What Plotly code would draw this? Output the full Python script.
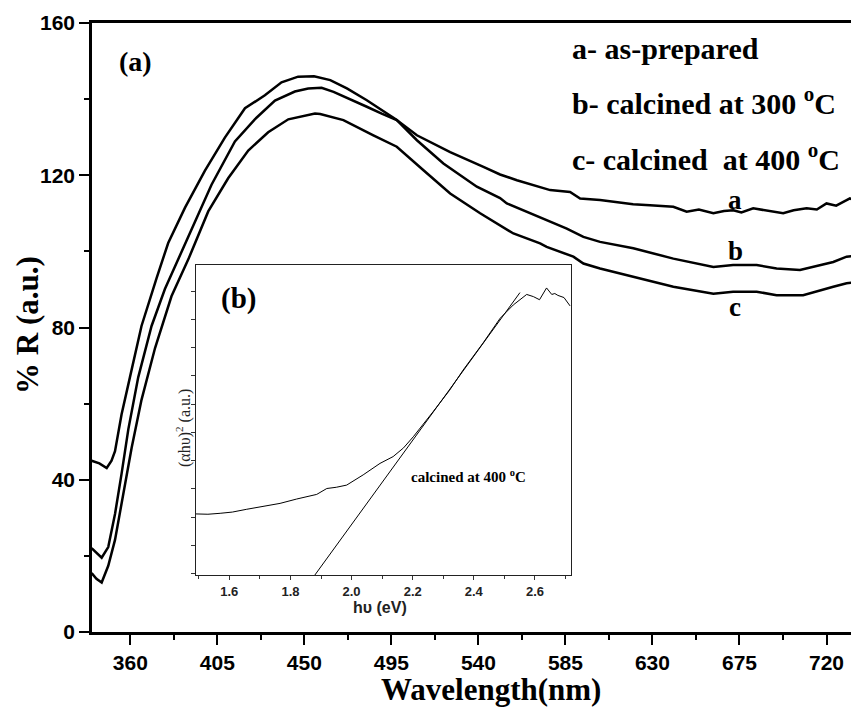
import plotly.graph_objects as go

# ---- main spectra (wavelength nm, %R) ----
wl_a = [340, 342.5, 345.2, 348.6, 352.1, 355.5, 359.0, 364.1, 371.0, 377.9, 386.5, 395.1, 402.0,
        414.1, 424.4, 434.8, 445.1, 452.0, 458.9, 465.1, 473.0, 482.3, 490.0, 497.8, 508.2, 525.4,
        542.6, 551.2, 559.9, 571.9, 577.1, 587.4, 592.6, 602.9, 611.5, 620.0, 628.7, 640.8, 647.7,
        654.0, 661.5, 667.0, 671.8, 676.0, 682.1, 690.0, 697.6, 703.0, 709.7, 715.0, 720.0, 725.0,
        732.1, 736.6]
r_a = [22.0, 20.8, 19.5, 22.3, 31.0, 41.6, 53.3, 66.9, 80.4, 90.1, 99.8, 109.5, 117.5,
       128.9, 134.7, 139.6, 142.0, 142.8, 143.0, 141.9, 140.2, 138.0, 136.2, 134.5, 130.5, 126.1,
       122.2, 120.2, 118.7, 117.0, 116.1, 115.6, 113.9, 113.5, 113.0, 112.4, 112.1, 111.7, 110.4,
       111.0, 110.0, 110.6, 110.8, 110.2, 111.3, 110.6, 110.0, 110.8, 111.3, 111.0, 112.6, 112.0,
       113.9, 113.0]

wl_b = [340, 344.0, 347.8, 350.3, 352.1, 355.5, 359.8, 365.8, 373.6, 379.6, 388.3, 398.6, 408.9,
        419.3, 429.6, 438.2, 446.8, 455.0, 463.4, 472.0, 482.3, 490.0, 497.8, 508.2, 521.9, 539.2,
        551.2, 554.7, 571.9, 585.7, 594.3, 602.9, 620.1, 640.8, 661.5, 671.7, 683.9, 694.2, 706.3,
        716.6, 723.5, 730.4, 736.6]
r_b = [45.0, 44.3, 43.1, 45.0, 47.5, 57.2, 66.9, 80.4, 93.0, 102.2, 111.5, 121.2, 129.9,
       137.6, 141.0, 144.4, 145.9, 146.0, 145.0, 142.8, 139.7, 137.0, 134.5, 129.2, 123.1, 117.0,
       114.0, 112.6, 109.0, 106.0, 103.8, 102.5, 100.8, 98.1, 95.9, 96.4, 96.4, 95.5, 95.1,
       96.4, 97.2, 98.6, 99.0]

wl_c = [340, 342.5, 345.2, 348.6, 352.1, 355.5, 360.7, 365.8, 372.8, 381.3, 390.0, 400.3, 410.6,
        421.0, 431.3, 441.7, 447.9, 455.5, 458.2, 470.2, 485.7, 497.8, 511.6, 525.4, 540.9, 551.2,
        558.1, 571.9, 575.3, 589.1, 594.3, 602.9, 620.1, 640.8, 661.5, 671.7, 683.9, 694.2, 707.9,
        716.6, 723.5, 730.4, 736.6]
r_c = [15.5, 14.0, 13.0, 17.4, 24.2, 33.9, 48.4, 61.0, 74.6, 88.2, 97.9, 110.5, 119.2,
       126.5, 131.3, 134.7, 135.3, 136.2, 136.1, 134.5, 130.5, 127.5, 121.3, 115.2, 110.0, 106.9,
       104.7, 102.1, 101.2, 98.6, 96.8, 95.5, 93.3, 90.7, 88.9, 89.4, 89.4, 88.5, 88.5,
       89.8, 90.7, 91.6, 92.0]

x_ticks = [360, 405, 450, 495, 540, 585, 630, 675, 720]
y_ticks = [0, 40, 80, 120, 160]

# ---- inset: Tauc plot ----
ev = [1.491, 1.53, 1.570, 1.61, 1.657, 1.70, 1.766, 1.82, 1.886, 1.919, 1.95, 1.984, 2.038, 2.093,
      2.136, 2.17, 2.202, 2.267, 2.32, 2.365, 2.43, 2.486, 2.529, 2.573, 2.595, 2.615, 2.638,
      2.655, 2.665, 2.675, 2.695, 2.715]
ahv2 = [19.7, 19.6, 19.9, 20.3, 21.2, 22.0, 23.1, 24.5, 26.0, 27.9, 28.3, 29.0, 32.3, 36.0,
        38.2, 41.0, 44.6, 52.7, 59.5, 66.1, 74.8, 82.8, 87.1, 90.5, 89.8, 88.8, 92.6,
        90.5, 90.8, 90.2, 89.5, 86.8]
tan_ev = [1.880, 2.551]
tan_y = [0.0, 91.1]
inset_ticks = [1.6, 1.8, 2.0, 2.2, 2.4, 2.6]

SERIF = "Liberation Serif"
SANS = "Liberation Sans"

fig = go.Figure()
for wl, r in [(wl_a, r_a), (wl_b, r_b), (wl_c, r_c)]:
    fig.add_trace(go.Scatter(x=wl, y=r, mode="lines", line=dict(color="black", width=2.5),
                             showlegend=False, xaxis="x", yaxis="y"))

fig.add_trace(go.Scatter(x=ev, y=ahv2, mode="lines", line=dict(color="black", width=1),
                         showlegend=False, xaxis="x2", yaxis="y2"))
fig.add_trace(go.Scatter(x=tan_ev, y=tan_y, mode="lines", line=dict(color="black", width=1),
                         showlegend=False, xaxis="x2", yaxis="y2"))

# page body has an 8px margin: the figure sits at (8, 8) in the window
OFF = 8
W, H = 859 - OFF, 711 - OFF
L, R, T, B = 92 - OFF, 0, 23 - OFF, 79
pw, ph = W - L - R, H - T - B


def px(x):
    """window pixel x -> paper fraction"""
    return (x - OFF - L) / pw


def py(y):
    """window pixel y -> paper fraction"""
    return (H - B - (y - OFF)) / ph


fig.update_layout(
    template="none",
    width=W, height=H,
    margin=dict(l=L, r=R, t=T, b=B, pad=0, autoexpand=False),
    paper_bgcolor="white", plot_bgcolor="white",
    showlegend=False,
    xaxis=dict(domain=[0, 1], range=[340.2, 736.8], tickvals=x_ticks, automargin=False,
               ticks="outside", ticklen=10, tickwidth=2, tickcolor="black",
               minor=dict(tick0=360, dtick=22.5, ticks="outside", ticklen=5, tickwidth=2,
                          tickcolor="black"),
               showline=True, linecolor="black", linewidth=2.5, mirror=True,
               showgrid=False, zeroline=False,
               tickfont=dict(family=SANS, size=21, color="black", weight="bold")),
    yaxis=dict(domain=[0, 1], range=[0, 160], tickvals=y_ticks, automargin=False,
               ticks="outside", ticklen=10, tickwidth=2, tickcolor="black",
               minor=dict(tick0=0, dtick=20, ticks="outside", ticklen=5, tickwidth=2,
                          tickcolor="black"),
               showline=True, linecolor="black", linewidth=2.5, mirror=False,
               showgrid=False, zeroline=False,
               tickfont=dict(family=SANS, size=21, color="black", weight="bold")),
    xaxis2=dict(domain=[px(196), px(571)], anchor="y2", range=[1.491, 2.718],
                tickvals=inset_ticks, ticktext=[f"{v:.1f}" for v in inset_ticks],
                automargin=False,
                ticks="outside", ticklen=4, tickwidth=1, tickcolor="#333",
                minor=dict(tick0=1.5, dtick=0.1, ticks="outside", ticklen=3, tickwidth=1,
                           tickcolor="#333"),
                showline=True, linecolor="#222", linewidth=1, mirror=True,
                showgrid=False, zeroline=False,
                tickfont=dict(family=SANS, size=13, color="#222", weight="bold")),
    yaxis2=dict(domain=[py(575), py(265)], anchor="x2", range=[0, 100], automargin=False,
                tick0=0.5, dtick=9.1, ticks="outside", ticklen=4, tickwidth=1,
                tickcolor="#333", showticklabels=False,
                showline=True, linecolor="#222", linewidth=1, mirror=True,
                showgrid=False, zeroline=False),
)

ann = []


def text(x, y, s, size, family=SERIF, weight="bold", angle=0, color="black",
         xanchor="center"):
    ann.append(dict(x=px(x), y=py(y), xref="paper", yref="paper", text=s, showarrow=False,
                    font=dict(family=family, size=size, color=color, weight=weight),
                    textangle=angle, xanchor=xanchor, yanchor="middle"))


text(491, 689, "Wavelength(nm)", 31)
text(28, 325, "% R (a.u.)", 31, angle=-90)
text(135, 61, "(a)", 28)
text(570, 49, "a- as-prepared", 30, xanchor="left")
text(570, 101, "b- calcined at 300 <sup>o</sup>C", 30, xanchor="left")
text(570, 157, "c- calcined  at 400 <sup>o</sup>C", 30, xanchor="left")
text(735, 200, "a", 27)
text(735, 251, "b", 27)
text(735, 307, "c", 27)
text(238, 298, "(b)", 29)
text(468, 476, "calcined at 400 <sup>o</sup>C", 15)
text(380, 607, "h\u03c5 (eV)", 16, family=SANS, color="#222")
text(183, 428, "(\u03b1h\u03c5)<sup>2</sup> (a.u.)", 16, weight="normal", angle=-90, color="#222")

fig.update_layout(annotations=ann)
fig.write_html("out.html")
